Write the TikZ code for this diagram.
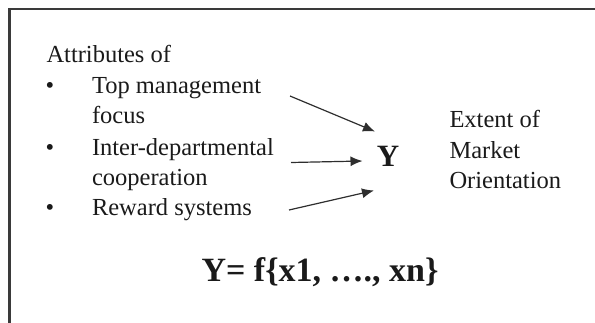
\documentclass[tikz,border=0pt]{standalone}
\usepackage{fontspec}
\setmainfont{Liberation Serif}
\usetikzlibrary{arrows.meta}
\definecolor{ink}{HTML}{1A1A1A}
\definecolor{frame}{HTML}{3A3A3A}
\definecolor{arrowc}{HTML}{2E2E2E}
\tikzset{
  txt/.style={inner sep=0pt, outer sep=0pt, text=ink, font=\fontsize{24.5}{30}\selectfont, anchor=base west},
  bul/.style={inner sep=0pt, outer sep=0pt, text=ink, font=\fontsize{24.5}{30}\selectfont, anchor=base},
  bigy/.style={inner sep=0pt, outer sep=0pt, text=ink, font=\fontsize{31}{36}\selectfont\bfseries, anchor=base},
  formula/.style={inner sep=0pt, outer sep=0pt, text=ink, font=\fontsize{34}{40}\selectfont\bfseries, anchor=base},
  conn/.style={draw=arrowc, line width=1.2pt, -{Latex[length=12pt,width=10pt]}},
  framebox/.style={draw=frame, line width=2.4pt}
}
\begin{document}
\begin{tikzpicture}[x=1pt,y=-1pt]
\useasboundingbox (0,0) rectangle (595,322);
% frame (cut off at right and bottom)
\coordinate (fbl) at (9.5,330);
\coordinate (ftl) at (9.5,9);
\coordinate (ftr) at (600,9);
\draw[framebox] (fbl) -- (ftl) -- (ftr);
% left texts
\node[txt] (attr) at (46.5,62) {Attributes of};
\node[bul] (b1) at (50,93) {•};
\node[txt] (i1a) at (92,93) {Top management};
\node[txt] (i1b) at (92,123) {focus};
\node[bul] (b2) at (50,155) {•};
\node[txt] (i2a) at (92,155) {Inter-departmental};
\node[txt] (i2b) at (92,185.5) {cooperation};
\node[bul] (b3) at (50,215.5) {•};
\node[txt] (i3) at (92,215.5) {Reward systems};
% Y
\node[bigy] (y) at (388,166) {Y};
% right text
\node[txt] (r1) at (449.5,127.5) {Extent of};
\node[txt] (r2) at (449.5,158.5) {Market};
\node[txt] (r3) at (449.5,188.5) {Orientation};
% formula
\node[formula] (f) at (320,281.5) {Y= f\{x1, …., xn\}};
% arrows
\coordinate (s1) at (290,96);
\coordinate (e1) at (375,131.5);
\coordinate (s2) at (291,162.5);
\coordinate (e2) at (362.5,161);
\coordinate (s3) at (289,210);
\coordinate (e3) at (374,190.5);
\draw[conn] (s1) -- (e1);
\draw[conn] (s2) -- (e2);
\draw[conn] (s3) -- (e3);
\end{tikzpicture}
\end{document}
